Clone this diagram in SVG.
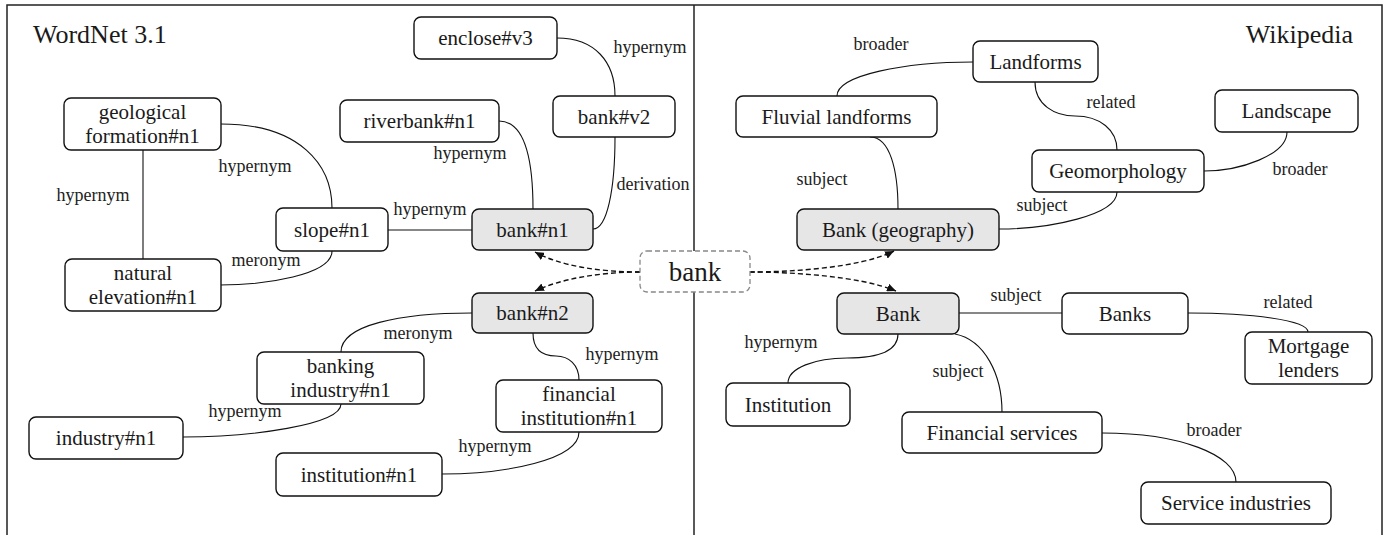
<svg xmlns="http://www.w3.org/2000/svg" width="1389" height="535" viewBox="0 0 1389 535">
<defs>
<style>
.frame{fill:none;stroke:#222;stroke-width:1.5}
.node rect{fill:#fff;stroke:#111;stroke-width:1.4}
.node.hl rect{fill:#e6e6e6}
.node text{font-family:'Liberation Serif','DejaVu Serif',serif;font-size:21px;fill:#1a1a1a;text-anchor:middle}
.edge{fill:none;stroke:#111;stroke-width:1.1}
.dash{fill:none;stroke:#111;stroke-width:1.4;stroke-dasharray:5,3}
.lbl{font-family:'Liberation Serif','DejaVu Serif',serif;font-size:18px;fill:#222;text-anchor:middle}
.title{font-family:'Liberation Serif','DejaVu Serif',serif;font-size:26px;fill:#1a1a1a}
</style>
<marker id="arr" markerWidth="10" markerHeight="8" refX="9" refY="4" orient="auto" markerUnits="userSpaceOnUse">
<path d="M0,0 L9,4 L0,8 z" fill="#111"/>
</marker>
</defs>
<rect width="1389" height="535" fill="#fff"/>
<g id="frame">
<path class="frame" d="M7,535 V5 H1382 V535"/>
<path class="frame" d="M694,5 V535"/>
<text class="title" x="33" y="43">WordNet 3.1</text>
<text class="title" x="1353" y="43" text-anchor="end">Wikipedia</text>
</g>
<g id="connectors">
<path class="edge" d="M221,124 C300,124 332,165 332,208"/>
<path class="edge" d="M143,150 V259"/>
<path class="edge" d="M332,251 C332,275 265,285 220,285"/>
<path class="edge" d="M388,230 H472"/>
<path class="edge" d="M499,121 C525,121 533,160 533,209"/>
<path class="edge" d="M557,38 C595,38 615,62 615,96"/>
<path class="edge" d="M615,137 C615,190 607,229 593,229"/>
<path class="edge" d="M472,313 C400,313 341,325 341,352"/>
<path class="edge" d="M533,333 C533,350 543,356 556,356 C569,356 579,365 579,380"/>
<path class="edge" d="M341,404 C341,425 250,437 183,437"/>
<path class="edge" d="M579,432 C579,460 505,474 442,474"/>
<path class="edge" d="M973,62 C905,62 837,75 837,96"/>
<path class="edge" d="M1035,82 C1035,105 1055,116 1075,116 C1100,116 1117,130 1117,150"/>
<path class="edge" d="M1287,132 C1287,155 1240,171 1204,171"/>
<path class="edge" d="M870,137 C890,137 898,170 898,209"/>
<path class="edge" d="M1117,192 C1117,215 1050,229 999,229"/>
<path class="edge" d="M959,313 H1062"/>
<path class="edge" d="M1188,313 C1250,313 1308,320 1308,332"/>
<path class="edge" d="M898,334 C898,350 880,358 847,358 C815,358 788,368 788,383"/>
<path class="edge" d="M955,334 C985,340 1002,375 1002,412"/>
<path class="edge" d="M1102,433 C1180,433 1236,455 1236,482"/>
<path class="dash" d="M640,272 C600,272 560,266 535,252" marker-end="url(#arr)"/>
<path class="dash" d="M640,272 C600,272 560,279 535,291" marker-end="url(#arr)"/>
<path class="dash" d="M750,272 C790,272 860,268 894,251" marker-end="url(#arr)"/>
<path class="dash" d="M750,272 C790,272 860,276 896,291" marker-end="url(#arr)"/>
<text class="lbl" x="255" y="172">hypernym</text>
<text class="lbl" x="93" y="201">hypernym</text>
<text class="lbl" x="266" y="266">meronym</text>
<text class="lbl" x="430" y="215">hypernym</text>
<text class="lbl" x="470" y="159">hypernym</text>
<text class="lbl" x="650" y="53">hypernym</text>
<text class="lbl" x="653" y="190">derivation</text>
<text class="lbl" x="418" y="339">meronym</text>
<text class="lbl" x="622" y="360">hypernym</text>
<text class="lbl" x="245" y="417">hypernym</text>
<text class="lbl" x="495" y="452">hypernym</text>
<text class="lbl" x="881" y="50">broader</text>
<text class="lbl" x="1111" y="108">related</text>
<text class="lbl" x="1300" y="175">broader</text>
<text class="lbl" x="822" y="185">subject</text>
<text class="lbl" x="1042" y="211">subject</text>
<text class="lbl" x="1016" y="301">subject</text>
<text class="lbl" x="1288" y="308">related</text>
<text class="lbl" x="781" y="348">hypernym</text>
<text class="lbl" x="958" y="377">subject</text>
<text class="lbl" x="1214" y="436">broader</text>
</g>
<g id="n-geoform" class="node"><rect x="64" y="98" width="157" height="52" rx="7"/><text x="142.5" y="119">geological</text><text x="142.5" y="143">formation#n1</text></g>
<g id="n-natelev" class="node"><rect x="65" y="259" width="156" height="52" rx="7"/><text x="143" y="280">natural</text><text x="143" y="304">elevation#n1</text></g>
<g id="n-slope" class="node"><rect x="276" y="208" width="112" height="43" rx="7"/><text x="332" y="236.5">slope#n1</text></g>
<g id="n-riverbank" class="node"><rect x="340" y="100" width="159" height="42" rx="7"/><text x="419.5" y="128">riverbank#n1</text></g>
<g id="n-enclose" class="node"><rect x="414" y="17" width="143" height="42" rx="7"/><text x="485.5" y="45">enclose#v3</text></g>
<g id="n-bankv2" class="node"><rect x="553" y="96" width="122" height="41" rx="7"/><text x="614" y="123.5">bank#v2</text></g>
<g id="n-bankn1" class="node hl"><rect x="472" y="209" width="121" height="41" rx="7"/><text x="532.5" y="236.5">bank#n1</text></g>
<g id="n-bankn2" class="node hl"><rect x="472" y="293" width="121" height="40" rx="7"/><text x="532.5" y="320">bank#n2</text></g>
<g id="n-bankind" class="node"><rect x="257" y="352" width="167" height="52" rx="7"/><text x="340.5" y="373">banking</text><text x="340.5" y="397">industry#n1</text></g>
<g id="n-fininst" class="node"><rect x="496" y="380" width="166" height="52" rx="7"/><text x="579" y="401">financial</text><text x="579" y="425">institution#n1</text></g>
<g id="n-industry" class="node"><rect x="29" y="417" width="154" height="42" rx="7"/><text x="106" y="445">industry#n1</text></g>
<g id="n-institution" class="node"><rect x="276" y="453" width="166" height="43" rx="7"/><text x="359" y="481.5">institution#n1</text></g>
<g id="n-bank" class="node"><rect x="640" y="251" width="110" height="41" rx="7" style="stroke:#888;stroke-width:1.3;stroke-dasharray:5,3"/><text x="695" y="281" style="font-size:27px">bank</text></g>
<g id="w-landforms" class="node"><rect x="973" y="41" width="125" height="41" rx="7"/><text x="1035.5" y="68.5">Landforms</text></g>
<g id="w-fluvial" class="node"><rect x="736" y="96" width="201" height="41" rx="7"/><text x="836.5" y="123.5">Fluvial landforms</text></g>
<g id="w-geomorph" class="node"><rect x="1032" y="150" width="172" height="42" rx="7"/><text x="1118" y="178">Geomorphology</text></g>
<g id="w-landscape" class="node"><rect x="1215" y="90" width="143" height="42" rx="7"/><text x="1286.5" y="118">Landscape</text></g>
<g id="w-bankgeo" class="node hl"><rect x="797" y="209" width="202" height="41" rx="7"/><text x="898" y="236.5">Bank (geography)</text></g>
<g id="w-bank" class="node hl"><rect x="837" y="293" width="122" height="41" rx="7"/><text x="898" y="320.5">Bank</text></g>
<g id="w-banks" class="node"><rect x="1062" y="293" width="126" height="41" rx="7"/><text x="1125" y="320.5">Banks</text></g>
<g id="w-mortgage" class="node"><rect x="1245" y="332" width="127" height="52" rx="7"/><text x="1308.5" y="353">Mortgage</text><text x="1308.5" y="377">lenders</text></g>
<g id="w-institution" class="node"><rect x="726" y="383" width="124" height="43" rx="7"/><text x="788" y="411.5">Institution</text></g>
<g id="w-finserv" class="node"><rect x="902" y="412" width="200" height="41" rx="7"/><text x="1002" y="439.5">Financial services</text></g>
<g id="w-servind" class="node"><rect x="1141" y="482" width="190" height="42" rx="7"/><text x="1236" y="510">Service industries</text></g>
</svg>
